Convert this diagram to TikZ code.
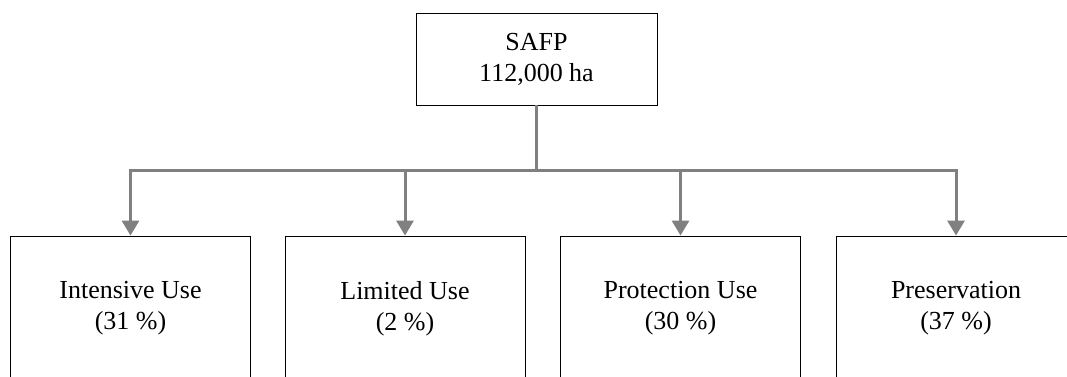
\documentclass[tikz,border=0pt]{standalone}
\usepackage{fontspec}
\setmainfont{Liberation Serif}
\usetikzlibrary{arrows.meta}
\definecolor{linkgray}{RGB}{128,128,128}
\begin{document}
\begin{tikzpicture}[x=1pt,y=-1pt,
  box/.style={draw=black, line width=0.9pt, rectangle, align=center,
    font=\fontsize{26}{31}\selectfont, inner sep=0pt},
  topbox/.style={box, minimum width=241pt, minimum height=92pt},
  usebox/.style={box, minimum width=240pt, minimum height=145pt},
  link/.style={draw=linkgray, line width=3pt},
  linkarrow/.style={link, -{Triangle[length=15pt,width=17pt]}}
]
\useasboundingbox (0,0) rectangle (1067,376);
\clip (0,0) rectangle (1067,376);

% root node
\node[topbox] (root) at (536.5,59) {SAFP\\112,000 ha};

% land-use categories
\node[usebox] (intensive)  at (130.5,308.5) {Intensive Use\\(31 \%)};
\node[usebox] (limited)    at (405,308.5)   {Limited Use\\(2 \%)};
\node[usebox] (protection) at (680.5,308.5) {Protection Use\\(30 \%)};
\node[usebox] (preserve)   at (956,308.5)   {Preservation\\(37 \%)};

% branching connectors
\coordinate (split) at (536.5,170);
\draw[link] (root.south) -- (split);
\draw[linkarrow] (split) -| (intensive.north);
\draw[linkarrow] (split) -| (limited.north);
\draw[linkarrow] (split) -| (protection.north);
\draw[linkarrow] (split) -| (preserve.north);
\end{tikzpicture}
\end{document}
